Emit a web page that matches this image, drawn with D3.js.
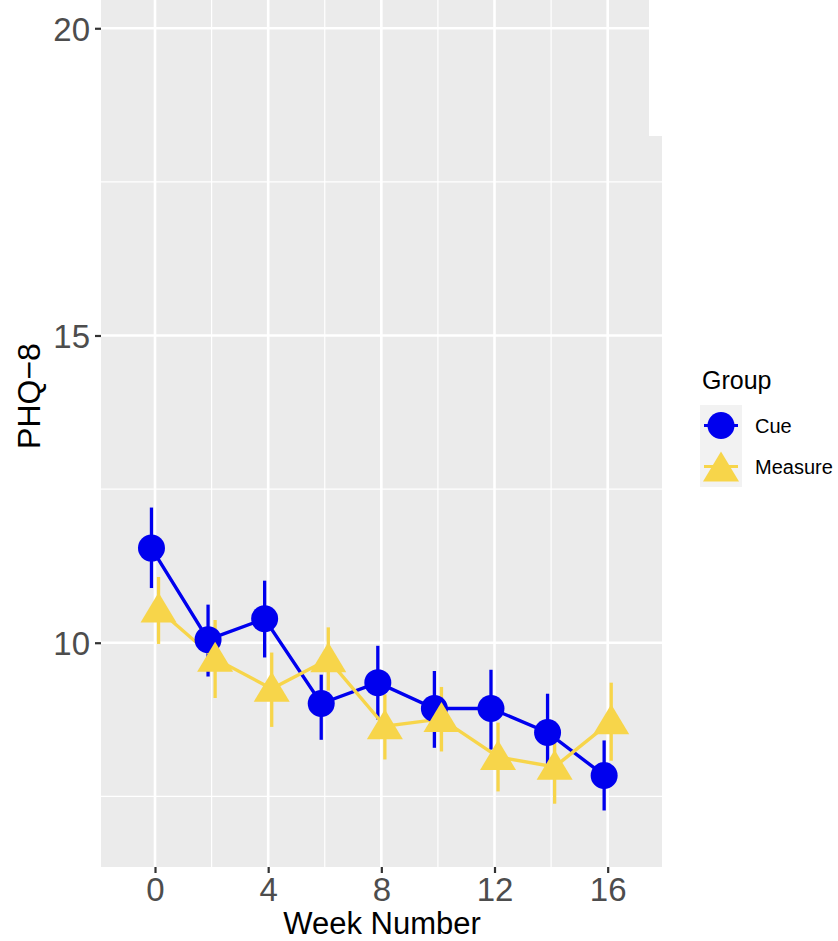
<!DOCTYPE html>
<html>
<head>
<meta charset="utf-8">
<script src="https://cdn.jsdelivr.net/npm/d3@7"></script>
<style>
  html, body { margin: 0; padding: 0; background: #fff; }
  svg { display: block; }
  text { font-family: "Liberation Sans", Arial, Helvetica, sans-serif; }
</style>
</head>
<body>
<svg id="chart" width="838" height="941"></svg>
<script>
// ---- data ----
const weeks = [0, 2, 4, 6, 8, 10, 12, 14, 16];
const groups = ["Cue", "Measure"];
const cueMean  = [11.54, 10.05, 10.39, 9.01, 9.35, 8.93, 8.93, 8.54, 7.84];
const cueLow   = [10.89, 9.45, 9.76, 8.42, 8.75, 8.29, 8.26, 7.90, 7.27];
const cueHigh  = [12.20, 10.62, 11.01, 9.48, 9.95, 9.54, 9.56, 9.17, 8.41];
const measMean = [10.54, 9.74, 9.25, 9.73, 8.64, 8.76, 8.14, 7.98, 8.72];
const measLow  = [9.98, 9.10, 8.63, 9.22, 8.10, 8.23, 7.58, 7.38, 8.08];
const measHigh = [11.07, 10.37, 9.84, 10.25, 9.16, 9.28, 8.70, 8.59, 9.35];
const xTicks = [0, 4, 8, 12, 16];
const yTicks = [10, 15, 20];
const xTitle = "Week Number";
const yTitle = "PHQ\u22128";
const legendTitle = "Group";

const colors = { Cue: "#0000EE", Measure: "#F7D54A" };
const dodge = { Cue: -0.125, Measure: 0.125 };

const series = [
  { name: "Cue", mean: cueMean, low: cueLow, high: cueHigh },
  { name: "Measure", mean: measMean, low: measLow, high: measHigh }
].map(s => ({
  name: s.name,
  pts: weeks.map((w, i) => ({ w, x: w + dodge[s.name], y: s.mean[i], lo: s.low[i], hi: s.high[i] }))
}));

// ---- layout ----
const svg = d3.select("#chart");
const panel = { left: 101, right: 662, top: 0, bottom: 867 };

const x = d3.scaleLinear().domain([-1.909, 17.92]).range([panel.left, panel.right]);
const y = d3.scaleLinear().domain([6.35, 20.46]).range([panel.bottom, panel.top]);

// panel background
svg.append("rect")
  .attr("x", panel.left).attr("y", panel.top)
  .attr("width", panel.right - panel.left).attr("height", panel.bottom - panel.top)
  .attr("fill", "#EBEBEB");

const grid = svg.append("g");
// minor grid
const yMinor = [7.5, 12.5, 17.5];
const xMinor = [2, 6, 10, 14];
grid.selectAll("line.ymin").data(yMinor).join("line")
  .attr("x1", panel.left).attr("x2", panel.right)
  .attr("y1", d => y(d)).attr("y2", d => y(d))
  .attr("stroke", "#fff").attr("stroke-width", 1.2);
grid.selectAll("line.xmin").data(xMinor).join("line")
  .attr("y1", panel.top).attr("y2", panel.bottom)
  .attr("x1", d => x(d)).attr("x2", d => x(d))
  .attr("stroke", "#fff").attr("stroke-width", 1.2);
// major grid
grid.selectAll("line.ymaj").data(yTicks).join("line")
  .attr("x1", panel.left).attr("x2", panel.right)
  .attr("y1", d => y(d)).attr("y2", d => y(d))
  .attr("stroke", "#fff").attr("stroke-width", 2.6);
grid.selectAll("line.xmaj").data(xTicks).join("line")
  .attr("y1", panel.top).attr("y2", panel.bottom)
  .attr("x1", d => x(d)).attr("x2", d => x(d))
  .attr("stroke", "#fff").attr("stroke-width", 2.6);

// error bars
const eb = svg.append("g");
series.forEach(s => {
  eb.selectAll(null).data(s.pts).join("line")
    .attr("x1", d => x(d.x)).attr("x2", d => x(d.x))
    .attr("y1", d => y(d.lo)).attr("y2", d => y(d.hi))
    .attr("stroke", colors[s.name]).attr("stroke-width", 3.3);
});

// lines
const line = d3.line().x(d => x(d.x)).y(d => y(d.y));
series.forEach(s => {
  svg.append("path").datum(s.pts)
    .attr("d", line).attr("fill", "none")
    .attr("stroke", colors[s.name]).attr("stroke-width", 3.4);
});

// points
const circleSym = d3.symbol().type(d3.symbolCircle).size(Math.PI * 13.5 * 13.5);
const triPath = (cx, cy) => {
  const hw = 18, top = cy - 17, bot = cy + 13;
  return `M${cx},${top}L${cx + hw},${bot}L${cx - hw},${bot}Z`;
};
series.forEach(s => {
  const g = svg.append("g");
  if (s.name === "Cue") {
    g.selectAll("path").data(s.pts).join("path")
      .attr("d", circleSym)
      .attr("transform", d => `translate(${x(d.x)},${y(d.y)})`)
      .attr("fill", colors[s.name]);
  } else {
    g.selectAll("path").data(s.pts).join("path")
      .attr("d", d => triPath(x(d.x), y(d.y)))
      .attr("fill", colors[s.name]);
  }
});

// odd white notch at top-right of the reference panel
svg.append("rect").attr("x", 649).attr("y", 0).attr("width", 20).attr("height", 136).attr("fill", "#fff");

// axes
const xAxis = d3.axisBottom(x).tickValues(xTicks).tickSize(6).tickPadding(4).tickFormat(d3.format("d"));
const gx = svg.append("g").attr("transform", `translate(0,${panel.bottom})`).call(xAxis);
gx.select(".domain").remove();
gx.selectAll(".tick line").attr("stroke", "#333").attr("stroke-width", 2.2);
gx.selectAll(".tick text").attr("fill", "#4D4D4D").attr("font-size", 33)
  .attr("font-family", "'Liberation Sans', Arial, sans-serif").attr("dy", "0.74em");

const yAxis = d3.axisLeft(y).tickValues(yTicks).tickSize(6).tickPadding(5).tickFormat(d3.format("d"));
const gy = svg.append("g").attr("transform", `translate(${panel.left},0)`).call(yAxis);
gy.select(".domain").remove();
gy.selectAll(".tick line").attr("stroke", "#333").attr("stroke-width", 2.2);
gy.selectAll(".tick text").attr("fill", "#4D4D4D").attr("font-size", 33)
  .attr("font-family", "'Liberation Sans', Arial, sans-serif").attr("dy", "0.36em");

// axis titles
svg.append("text").attr("x", 382).attr("y", 934).attr("text-anchor", "middle")
  .attr("font-size", 31).attr("fill", "#000").text(xTitle);
svg.append("text").attr("transform", "translate(40,396) rotate(-90)").attr("text-anchor", "middle")
  .attr("font-size", 32).attr("fill", "#000").text(yTitle);

// legend
const lg = svg.append("g");
lg.append("text").attr("x", 702).attr("y", 389).attr("font-size", 25).attr("fill", "#000").text(legendTitle);
const keyX = 700, keyY0 = 405, keyH = 41, keyW = 42;
groups.forEach((gname, i) => {
  const ky = keyY0 + i * keyH;
  const cy = ky + keyH / 2;
  lg.append("rect").attr("x", keyX).attr("y", ky).attr("width", keyW).attr("height", keyH).attr("fill", "#F2F2F2");
  lg.append("line").attr("x1", keyX + 4).attr("x2", keyX + keyW - 4).attr("y1", cy).attr("y2", cy)
    .attr("stroke", colors[gname]).attr("stroke-width", 3.2);
  if (gname === "Cue") {
    lg.append("path").attr("d", circleSym).attr("transform", `translate(${keyX + keyW / 2},${cy})`).attr("fill", colors[gname]);
  } else {
    lg.append("path").attr("d", triPath(keyX + keyW / 2, cy + 2)).attr("fill", colors[gname]);
  }
  lg.append("text").attr("x", 755).attr("y", cy + 7).attr("font-size", 20).attr("fill", "#000").text(gname);
});
</script>
</body>
</html>
